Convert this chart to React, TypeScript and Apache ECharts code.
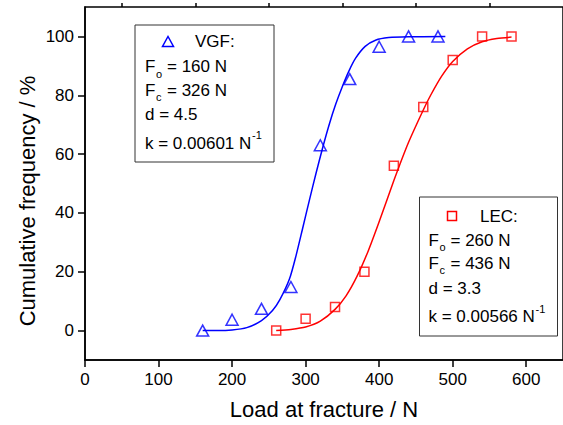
import React, { useEffect, useRef } from "react";
import * as echarts from "echarts";

const vgfX = [160, 200, 240, 280, 320, 360, 400, 440, 480];
const vgfY = [0, 3.7, 7.4, 14.8, 63, 85.5, 96.5, 100, 100];
const lecX = [260, 300, 340, 380, 420, 460, 500, 540, 580];
const lecY = [0, 4, 8, 20, 56, 76, 92, 100, 100];

// Fitted curves
const vgfFitX = [160, 180, 200, 220, 240, 255, 265, 278, 287, 296, 305, 314, 323, 332, 341, 350, 359, 368, 381, 395, 413, 440, 490];
const vgfFitY = [0, 0, 0.2, 1, 3.4, 6.8, 10.5, 17.5, 25.5, 34.8, 44.2, 53.3, 62, 70, 77, 83, 88.3, 92.6, 96.6, 98.7, 99.6, 99.9, 100];
const lecFitX = [260, 280, 300, 320, 340, 355, 370, 385, 400, 420, 440, 460, 470, 485, 500, 520, 540, 560, 580];
const lecFitY = [0, 0.4, 1.2, 3.2, 7.2, 11.8, 18.5, 27, 37, 51, 64, 75, 80, 86.5, 91.5, 95.8, 98.2, 99.3, 99.8];

const xMajorTicks = [0, 100, 200, 300, 400, 500, 600];
const xMinorTicks = [50, 150, 250, 350, 450, 550];
const yMajorTicks = [0, 20, 40, 60, 80, 100];
const yMinorTicks = [-10, 10, 30, 50, 70, 90];

const vgfLines = ["VGF:", "160 N", "326 N", "d = 4.5", "k = 0.00601 N"];
const lecLines = ["LEC:", "260 N", "436 N", "d = 3.3", "k = 0.00566 N"];

const FONT = "'Liberation Sans', Arial, sans-serif";
const BLUE = "#0000ff";
const RED = "#ff0000";

function pairs(xs: number[], ys: number[]) {
  return xs.map((x, i) => [x, ys[i]]);
}

function txt(text: string, x: number, y: number, size = 17, extra: any = {}) {
  return {
    type: "text",
    x,
    y,
    z: 100,
    style: {
      text,
      fontSize: size,
      fontFamily: FONT,
      fill: "#000",
      align: "left",
      verticalAlign: "middle",
      ...extra,
    },
  };
}

function legendBox(
  lines: string[],
  box: { x: number; y: number; w: number; h: number },
  tx: number,
  titleX: number,
  ys: number[],
  symbol: any
) {
  const els: any[] = [
    {
      type: "rect",
      z: 90,
      shape: { x: box.x, y: box.y, width: box.w, height: box.h },
      style: { fill: "#fff", stroke: "#333", lineWidth: 1 },
    },
    symbol,
    txt(lines[0], titleX, ys[0]),
    txt("F", tx, ys[1]),
    txt("o", tx + 11, ys[1] + 7, 11),
    txt("= " + lines[1], tx + 22, ys[1]),
    txt("F", tx, ys[2]),
    txt("c", tx + 11, ys[2] + 7, 11),
    txt("= " + lines[2], tx + 22, ys[2]),
    txt(lines[3], tx, ys[3]),
    txt(lines[4], tx, ys[4]),
    txt("-1", tx + 107, ys[4] - 8, 11),
  ];
  return els;
}

export default function App() {
  const ref = useRef<HTMLDivElement>(null);
  useEffect(() => {
    if (!ref.current) return;
    const chart = echarts.init(ref.current, null, { renderer: "svg" });
    const axisLineStyle = { color: "#000", width: 1.5 };
    const option: any = {
      animation: false,
      textStyle: { fontFamily: FONT },
      grid: {
        left: 85,
        top: 7,
        width: 482,
        height: 353,
        show: true,
        borderColor: "#000",
        borderWidth: 1.5,
        backgroundColor: "transparent",
      },
      xAxis: [
        {
          type: "value",
          min: 0,
          max: 650,
          interval: 50,
          axisLine: { show: true, onZero: false, lineStyle: axisLineStyle },
          axisTick: { show: true, length: 7, customValues: xMajorTicks, lineStyle: axisLineStyle },
          axisLabel: { customValues: xMajorTicks, fontSize: 17, color: "#000", margin: 11, fontFamily: FONT },
          splitLine: { show: false },
          name: "Load at fracture / N",
          nameLocation: "middle",
          nameGap: 38,
          nameTextStyle: { fontSize: 22, color: "#000", fontFamily: FONT },
        },
        {
          type: "value",
          min: 0,
          max: 650,
          interval: 50,
          axisLine: { show: false, onZero: false },
          axisTick: { show: true, length: 4, customValues: xMinorTicks, lineStyle: axisLineStyle },
          axisLabel: { show: false },
          splitLine: { show: false },
        },
      ],
      yAxis: [
        {
          type: "value",
          min: -10,
          max: 110,
          interval: 10,
          axisLine: { show: true, onZero: false, lineStyle: axisLineStyle },
          axisTick: { show: true, length: 7, customValues: yMajorTicks, lineStyle: axisLineStyle },
          axisLabel: { customValues: yMajorTicks, fontSize: 17, color: "#000", margin: 11, fontFamily: FONT },
          splitLine: { show: false },
        },
        {
          type: "value",
          min: -10,
          max: 110,
          interval: 10,
          axisLine: { show: false, onZero: false },
          axisTick: { show: true, length: 4, customValues: yMinorTicks, lineStyle: axisLineStyle },
          axisLabel: { show: false },
          splitLine: { show: false },
        },
      ],
      series: [
        {
          type: "line",
          data: pairs(vgfFitX, vgfFitY),
          smooth: 0.25,
          showSymbol: false,
          lineStyle: { color: BLUE, width: 1.5 },
          z: 2,
        },
        {
          type: "line",
          data: pairs(lecFitX, lecFitY),
          smooth: 0.25,
          showSymbol: false,
          lineStyle: { color: RED, width: 1.5 },
          z: 2,
        },
        {
          type: "scatter",
          data: pairs(vgfX, vgfY),
          symbol: "triangle",
          symbolSize: [12, 11],
          itemStyle: { color: "rgba(0,0,0,0)", borderColor: BLUE, borderWidth: 1.5 },
          z: 3,
        },
        {
          type: "scatter",
          data: pairs(lecX, lecY),
          symbol: "rect",
          symbolSize: 9,
          itemStyle: { color: "rgba(0,0,0,0)", borderColor: RED, borderWidth: 1.5 },
          z: 3,
        },
      ],
      graphic: [
        {
          type: "text",
          x: 27,
          y: 201,
          rotation: Math.PI / 2,
          style: {
            text: "Cumulative frequency / %",
            fontSize: 22,
            fontFamily: FONT,
            fill: "#000",
            align: "center",
            verticalAlign: "middle",
          },
        },
        ...legendBox(
          vgfLines,
          { x: 135, y: 25, w: 139, h: 137 },
          145,
          195,
          [41.7, 66.7, 90, 114.3, 143.3],
          {
            type: "polygon",
            z: 100,
            shape: { points: [[162.5, 46.5], [173.5, 46.5], [168, 36.5]] },
            style: { fill: "none", stroke: BLUE, lineWidth: 1.5 },
          }
        ),
        ...legendBox(
          lecLines,
          { x: 419.5, y: 197, w: 138, h: 139 },
          428.5,
          480,
          [216, 240, 263.3, 288.3, 316.7],
          {
            type: "rect",
            z: 100,
            shape: { x: 447.5, y: 211.5, width: 9, height: 9 },
            style: { fill: "none", stroke: RED, lineWidth: 1.5 },
          }
        ),
      ],
    };
    chart.setOption(option);
    return () => chart.dispose();
  }, []);
  return (
    <div
      ref={ref}
      style={{ position: "fixed", left: 0, top: 0, width: 563, height: 425, background: "#fff" }}
    />
  );
}
